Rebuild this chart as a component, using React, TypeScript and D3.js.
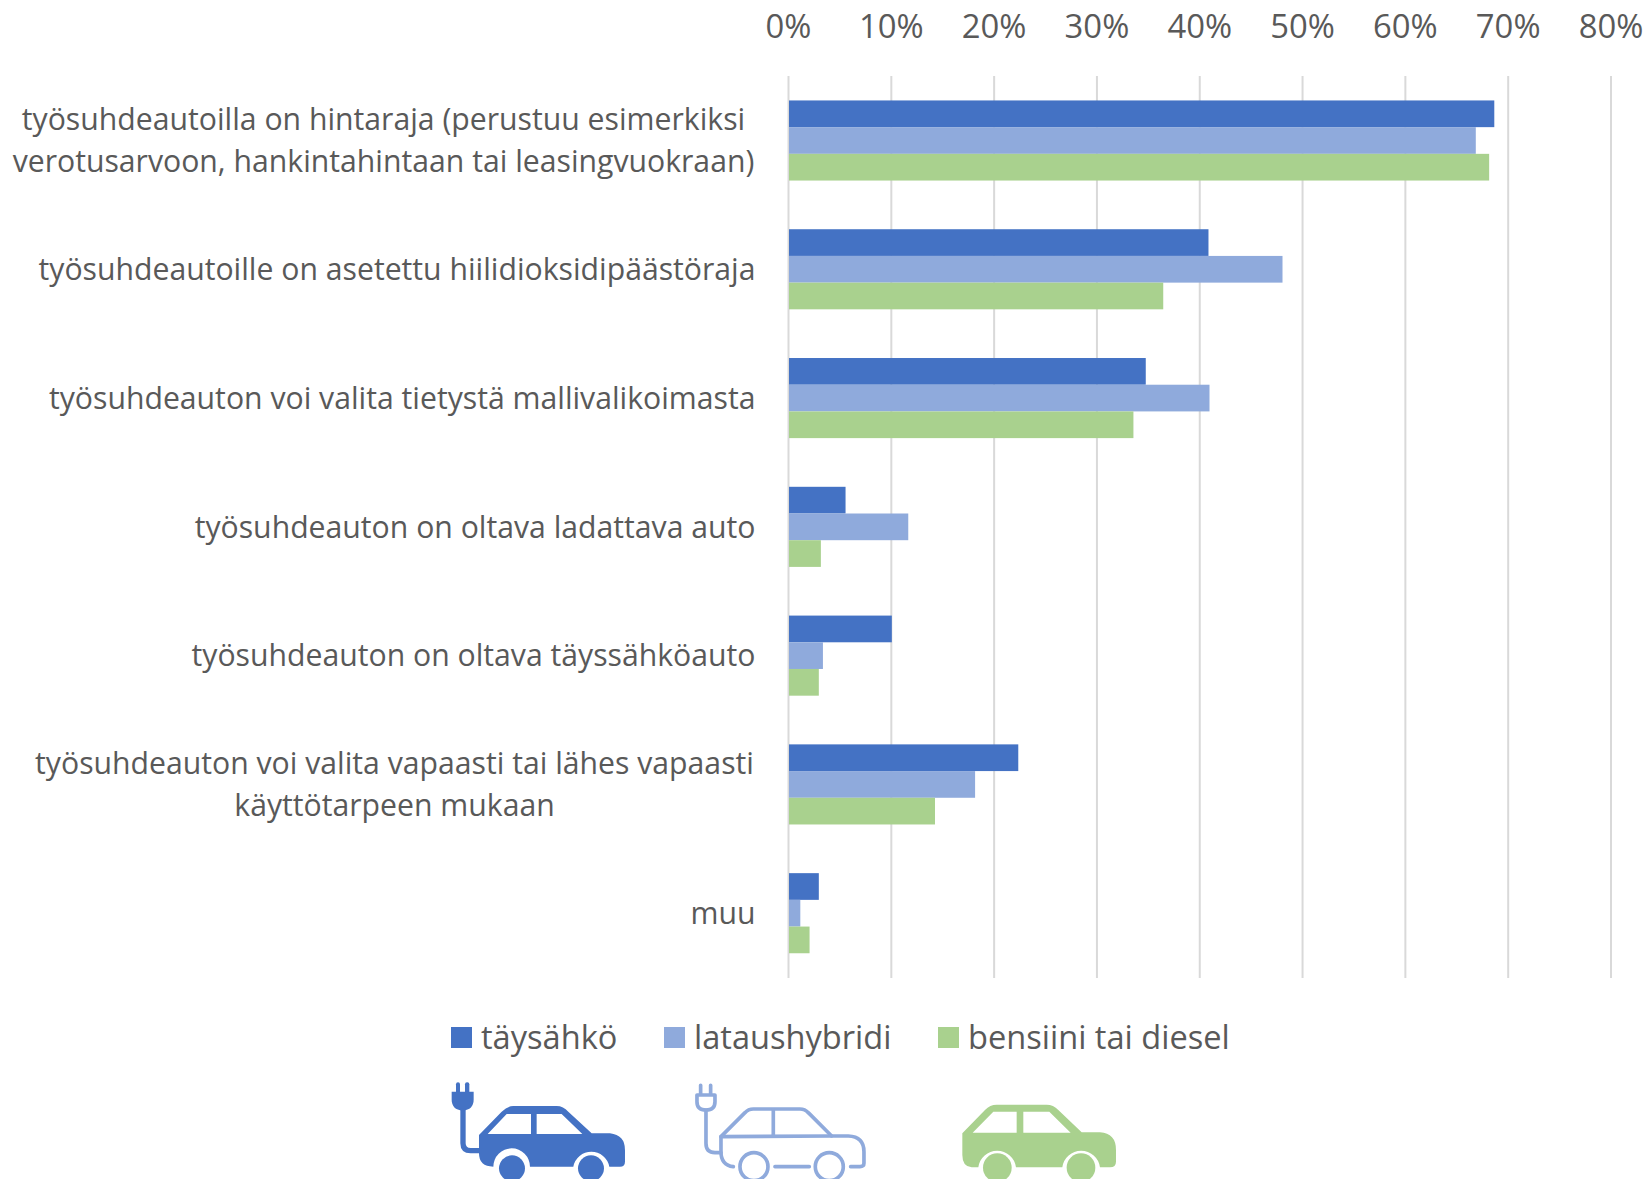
import React from "react";
import * as d3 from "d3";

const categories: string[][] = [
  ["työsuhdeautoilla on hintaraja (perustuu esimerkiksi", "verotusarvoon, hankintahintaan tai leasingvuokraan)"],
  ["työsuhdeautoille on asetettu hiilidioksidipäästöraja"],
  ["työsuhdeauton voi valita tietystä mallivalikoimasta"],
  ["työsuhdeauton on oltava ladattava auto"],
  ["työsuhdeauton on oltava täyssähköauto"],
  ["työsuhdeauton voi valita vapaasti tai lähes vapaasti", "käyttötarpeen mukaan"],
  ["muu"],
];
const seriesNames = ["täysähkö", "lataushybridi", "bensiini tai diesel"];
const taysahko = [68.6, 40.8, 34.7, 5.5, 10.0, 22.3, 2.9];
const lataushybridi = [66.8, 48.0, 40.9, 11.6, 3.3, 18.1, 1.1];
const bensiini = [68.1, 36.4, 33.5, 3.1, 2.9, 14.2, 2.0];
const ticks = [0, 10, 20, 30, 40, 50, 60, 70, 80];
const series = [taysahko, lataushybridi, bensiini];
const colors = ["#4472C4", "#8FAADC", "#A9D18E"];
const textColor = "#595959";
const font = "'Open Sans', sans-serif";

const x = d3.scaleLinear().domain([0, 80]).range([788.5, 1611]);
const y0 = d3.scaleBand<number>().domain(d3.range(7)).range([76.1, 977.6]).paddingInner(0).paddingOuter(0);
const barH = 26.7;

const legendX = [451, 664, 938];
const legendTextX = [481, 694, 968];

export default function App() {
  return (
    <svg width={1647} height={1179} style={{ position: "absolute", left: 0, top: 0, background: "#fff" }} fontFamily={font} fontSize={30.2} fill={textColor}>
      {ticks.map((t) => (
        <g key={t}>
          <line x1={x(t)} x2={x(t)} y1={76} y2={978} stroke="#D9D9D9" strokeWidth={2} />
          <text x={x(t)} y={38} textAnchor="middle" fontSize={32.8}>{t}%</text>
        </g>
      ))}
      {categories.map((lines, i) => {
        const cy = y0(i)! + y0.bandwidth() / 2;
        return (
          <g key={i}>
            {series.map((s, k) => (
              <rect key={k} x={x(0) + 0.5} y={cy - 1.5 * barH + k * barH} width={x(s[i]) - x(0)} height={barH} fill={colors[k]} />
            ))}
            {lines.length === 1 ? (
              <text x={755.5} y={cy + 10.8} textAnchor="end">{lines[0]}</text>
            ) : (
              lines.map((l, j) => (
                <text key={j} x={i === 0 ? 383.5 : 394.5} y={cy + 10.8 + (j - 0.5) * 42} textAnchor="middle">{l}</text>
              ))
            )}
          </g>
        );
      })}
      {seriesNames.map((n, k) => (
        <g key={n}>
          <rect x={legendX[k]} y={1027} width={21} height={21} fill={colors[k]} />
          <text x={legendTextX[k]} y={1049} fontSize={32.6}>{n}</text>
        </g>
      ))}
      <g transform="translate(430,1000) scale(0.3333)">
        <g fill={colors[0]}>
          <rect x={78} y={247} width={12} height={35} rx={6} />
          <rect x={105} y={247} width={13} height={35} rx={6} />
          <path d="M65,275 L131,275 L131,298 Q131,330 98,332 Q65,330 65,298 Z" />
          <path d="M147,405 L215,335 Q232,318 250,318 L380,318 Q400,318 415,335 L485,400 L540,400 Q585,405 585,450 L585,485 Q585,500 570,500 L538,500 A55,55 0 0 0 430,500 L300,500 A55,55 0 0 0 190,500 Q147,500 147,460 Z" />
          <circle cx={246} cy={505} r={39} />
          <circle cx={483} cy={505} r={39} />
        </g>
        <path d="M99,325 L99,430 Q99,452 122,452 L150,452" fill="none" stroke={colors[0]} strokeWidth={16} />
        <path d="M173,402 L230,342 L303,342 L303,402 Z M320,342 L395,342 L457,402 L320,402 Z" fill="#fff" />
      </g>
      <g transform="translate(430,1000) scale(0.3333)" fill="none" stroke={colors[1]} strokeWidth={11} strokeLinecap="round" strokeLinejoin="round">
        <path d="M812,256 L812,285 M842,256 L842,285 M801,285 L855,285 L855,305 Q855,330 828,330 Q801,330 801,305 Z" />
        <path d="M828,330 L828,430 Q828,458 855,458 L873,458" />
        <path d="M910,500 Q873,495 873,455 L873,410 L945,338 Q955,327 970,327 L1110,327 Q1125,327 1135,338 L1205,408 L1255,408 Q1302,410 1302,455 L1302,490 Q1302,500 1290,500 L1262,500" />
        <path d="M1035,500 L1138,500 M873,410 L1205,408 M1030,330 L1030,408" />
        <circle cx={972} cy={500} r={42} />
        <circle cx={1198} cy={500} r={42} />
      </g>
      <g transform="translate(930,1000) scale(0.3333)">
        <path d="M97,400 L165,330 Q180,314 200,314 L350,314 Q370,314 385,330 L455,397 L510,397 Q558,400 558,450 L558,485 Q558,502 540,502 L510,502 A57,57 0 0 0 397,502 L258,502 A57,57 0 0 0 145,502 L125,502 Q97,500 97,465 Z" fill={colors[2]} />
        <path d="M128,398 L190,335 L260,335 L260,398 Z M280,335 L358,335 L422,398 L280,398 Z" fill="#fff" />
        <circle cx={202} cy={503} r={43} fill={colors[2]} />
        <circle cx={453} cy={503} r={43} fill={colors[2]} />
      </g>
    </svg>
  );
}
